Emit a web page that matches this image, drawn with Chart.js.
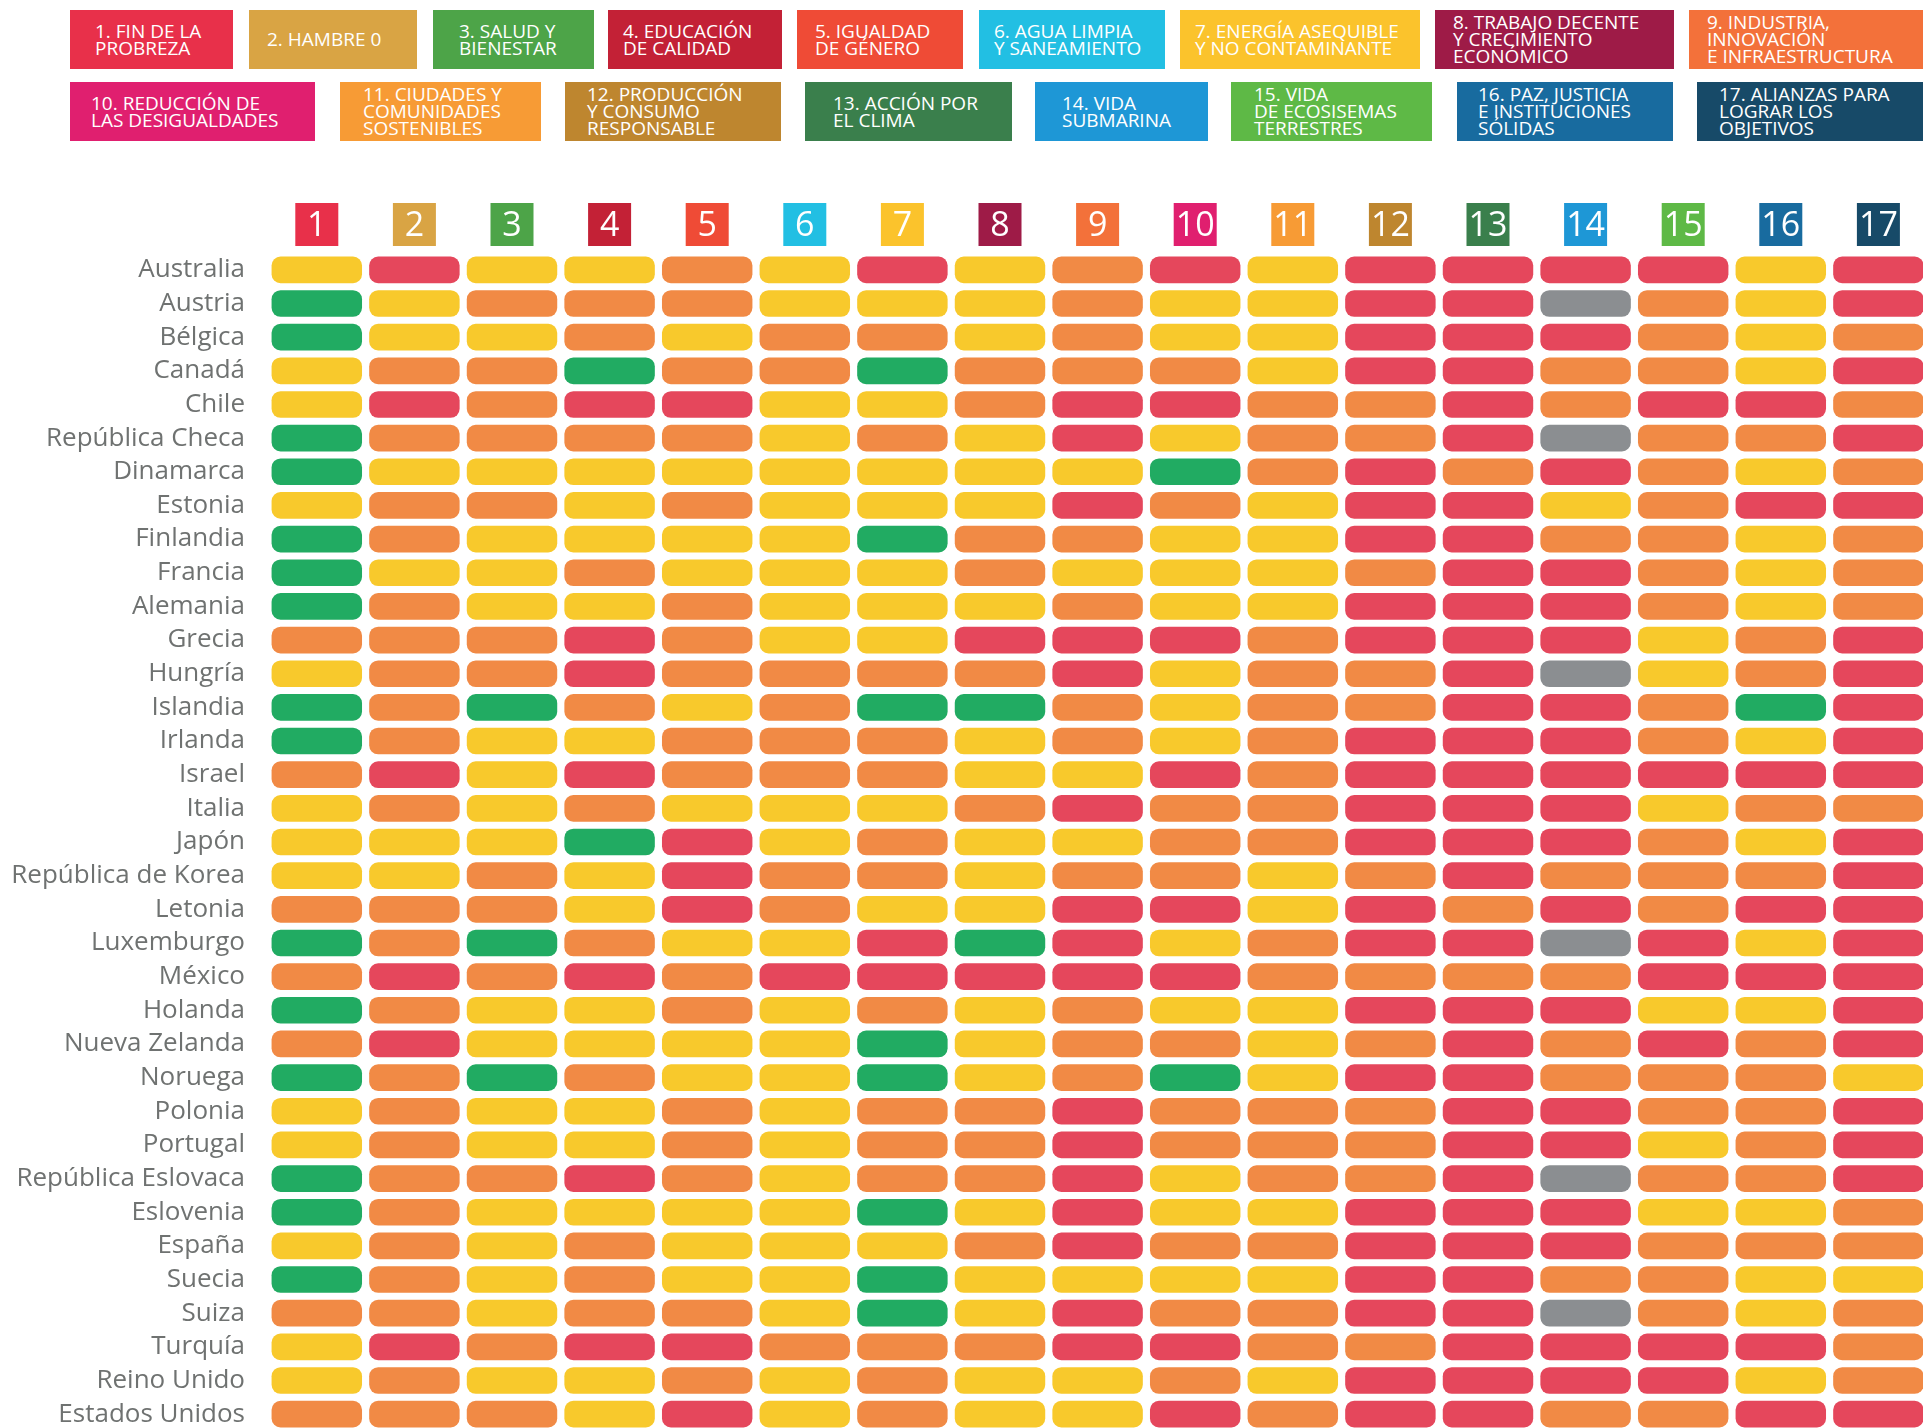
<!DOCTYPE html>
<html lang="es">
<head>
<meta charset="utf-8">
<title>ODS - países OCDE</title>
<script src="https://cdn.jsdelivr.net/npm/chart.js@4.4.1/dist/chart.umd.min.js"></script>
<style>
  html, body { margin: 0; padding: 0; background: #fff; overflow: hidden; width: 1923px; height: 1428px; }
  #wrap { position: relative; width: 1923px; height: 1428px; }
  #chart { position: absolute; left: 0; top: 0; }
  .ods {
    position: absolute; display: flex; align-items: center; box-sizing: border-box;
    color: #fff; font-family: 'Liberation Sans Narrow', 'Open Sans', sans-serif;
    font-size: 19px; line-height: 17px; white-space: nowrap; overflow: hidden;
  }
</style>
</head>
<body>
<div id="wrap">
  <div id="leyenda"></div>
  <canvas id="chart" width="1923" height="1431"></canvas>
</div>
<script>
// Datos
const goalNums = [1, 2, 3, 4, 5, 6, 7, 8, 9, 10, 11, 12, 13, 14, 15, 16, 17];

const goalNames = [
  '1. FIN DE LA<br>PROBREZA',
  '2. HAMBRE 0',
  '3. SALUD Y<br>BIENESTAR',
  '4. EDUCACIÓN<br>DE CALIDAD',
  '5. IGUALDAD<br>DE GÉNERO',
  '6. AGUA LIMPIA<br>Y SANEAMIENTO',
  '7. ENERGÍA ASEQUIBLE<br>Y NO CONTAMINANTE',
  '8. TRABAJO DECENTE<br>Y CRECIMIENTO<br>ECONÓMICO',
  '9. INDUSTRIA,<br>INNOVACIÓN<br>E INFRAESTRUCTURA',
  '10. REDUCCIÓN DE<br>LAS DESIGUALDADES',
  '11. CIUDADES Y<br>COMUNIDADES<br>SOSTENIBLES',
  '12. PRODUCCIÓN<br>Y CONSUMO<br>RESPONSABLE',
  '13. ACCIÓN POR<br>EL CLIMA',
  '14. VIDA<br>SUBMARINA',
  '15. VIDA<br>DE ECOSISEMAS<br>TERRESTRES',
  '16. PAZ, JUSTICIA<br>E INSTITUCIONES<br>SÓLIDAS',
  '17. ALIANZAS PARA<br>LOGRAR LOS<br>OBJETIVOS'
];

const paises = [
  'Australia', 'Austria', 'Bélgica', 'Canadá', 'Chile', 'República Checa', 'Dinamarca',
  'Estonia', 'Finlandia', 'Francia', 'Alemania', 'Grecia', 'Hungría', 'Islandia',
  'Irlanda', 'Israel', 'Italia', 'Japón', 'República de Korea', 'Letonia', 'Luxemburgo',
  'México', 'Holanda', 'Nueva Zelanda', 'Noruega', 'Polonia', 'Portugal', 'República Eslovaca',
  'Eslovenia', 'España', 'Suecia', 'Suiza', 'Turquía', 'Reino Unido', 'Estados Unidos'
];

// G = verde, Y = amarillo, O = naranja, R = rojo, X = sin datos (gris); una letra por ODS
const estado = [
  'YRYYOYRYORYRRRRYR', // Australia
  'GYOOOYYYOYYRRXOYR', // Austria
  'GYYOYOOYOYYRRROYO', // Bélgica
  'YOOGOOGOOOYRROOYR', // Canadá
  'YRORRYYORROORORRO', // Chile
  'GOOOOYOYRYOORXOOR', // República Checa
  'GYYYYYYYYGOROROYO', // Dinamarca
  'YOOYOYYYROYRRYORR', // Estonia
  'GOYYYYGOOYYRROOYO', // Finlandia
  'GYYOYYYOYYYORROYO', // Francia
  'GOYYOYYYOYYRRROYO', // Alemania
  'OOOROYYRRRORRRYOR', // Grecia
  'YOOROOOORYOORXYOR', // Hungría
  'GOGOYOGGOYOORROGR', // Islandia
  'GOYYOOOYOYORRROYR', // Irlanda
  'ORYROOOYYRORRRRRR', // Israel
  'YOYOYYYOROORRRYOO', // Italia
  'YYYGRYOYYOORRROYR', // Japón
  'YYOYROOYOOYOROOOR', // República de Korea
  'OOOYROYYRRYRORORR', // Letonia
  'GOGOYYRGRYORRXRYR', // Luxemburgo
  'ORORORRRRROOOORRR', // México
  'GOYYOYOYOYYRRRYYR', // Holanda
  'ORYYYYGYOOYOROROR', // Nueva Zelanda
  'GOGOYYGYOGYRROOOY', // Noruega
  'YOYYOYOOROOORROOR', // Polonia
  'YOYYOYOOROOORRYOR', // Portugal
  'GOOROYOORYOORXOOR', // República Eslovaca
  'GOYYYYGYRYYRRRYYO', // Eslovenia
  'YOYOYYYOROORRROOO', // España
  'GOYOYYGYYYYRROOYY', // Suecia
  'OOYOOYGYROORRXOYO', // Suiza
  'YRORROOORROORRRRO', // Turquía
  'YOYYOYOYYOYRRRRYO', // Reino Unido
  'OOOYRYOYYRORROORR'  // Estados Unidos
];

// Estilos
const goalColors = [
  '#e8304a', '#d9a444', '#4da448', '#c32136', '#ef4b36', '#22bfe3', '#fbc32c', '#9e1b47', '#f3713a',
  '#e01f6f', '#f79b35', '#be862f', '#3a7f4c', '#1e97d6', '#5eb946', '#186b9f', '#174a68'
];
const paleta = { G: '#21ab62', Y: '#f8c92c', O: '#f18a45', R: '#e5475c', X: '#8b8e91' };

// cajas de la leyenda superior: [x, y, ancho, sangría]
const cajas = [
  [70, 10, 163, 25], [249, 10, 168, 18], [433, 10, 161, 26], [608, 10, 174, 15], [797, 10, 166, 18],
  [979, 10, 186, 15], [1180, 10, 240, 15], [1435, 10, 239, 18], [1689, 10, 234, 18],
  [70, 82, 245, 21], [340, 82, 201, 23], [565, 82, 216, 22], [805, 82, 207, 28], [1035, 82, 173, 27],
  [1231, 82, 201, 23], [1457, 82, 216, 21], [1697, 82, 226, 22]
];

const leyenda = document.getElementById('leyenda');
goalNames.forEach((txt, i) => {
  const [x, y, w, pad] = cajas[i];
  const d = document.createElement('div');
  d.className = 'ods';
  d.style.cssText = `left:${x}px;top:${y}px;width:${w}px;height:59px;padding-left:${pad}px;background:${goalColors[i]}`;
  d.innerHTML = '<span>' + txt + '</span>';
  leyenda.appendChild(d);
});

// Cuadros numerados encima de cada columna
const cabecera = {
  id: 'cabecera',
  afterDraw(chart) {
    const { ctx, chartArea, scales: { x } } = chart;
    ctx.save();
    ctx.textAlign = 'center';
    ctx.textBaseline = 'middle';
    ctx.font = '34px "Liberation Sans Narrow", "Open Sans", sans-serif';
    goalNums.forEach((g, j) => {
      const cx = x.getPixelForValue(g);
      const top = chartArea.top - 50;
      ctx.fillStyle = goalColors[j];
      ctx.fillRect(cx - 21.5, top, 43, 43);
      ctx.fillStyle = '#ffffff';
      ctx.fillText(String(g), cx, top + 23);
    });
    ctx.restore();
  }
};

const datasets = goalNums.map((g, j) => ({
  label: 'ODS ' + g,
  data: paises.map(() => [g - 0.46, g + 0.46]),
  backgroundColor: estado.map(fila => paleta[fila[j]]),
  borderRadius: 9,
  borderSkipped: false,
  barThickness: 26,
  grouped: false
}));

new Chart(document.getElementById('chart').getContext('2d'), {
  type: 'bar',
  data: { labels: paises, datasets },
  options: {
    indexAxis: 'y',
    responsive: false,
    animation: false,
    layout: { padding: { top: 253, right: 0, bottom: 0, left: 0 } },
    plugins: {
      legend: { display: false },
      tooltip: { enabled: false }
    },
    scales: {
      x: { type: 'linear', min: 0.5, max: 17.457, display: false },
      y: {
        grid: { display: false, drawTicks: false },
        border: { display: false },
        ticks: {
          color: '#6f7271',
          font: { family: "'Open Sans', sans-serif", size: 26 },
          padding: 23,
          autoSkip: false
        },
        afterFit: (s) => {
          s.width = 268;
          s.paddingTop = 0;
          s.paddingBottom = 0;
        }
      }
    }
  },
  plugins: [cabecera]
});
</script>
</body>
</html>
